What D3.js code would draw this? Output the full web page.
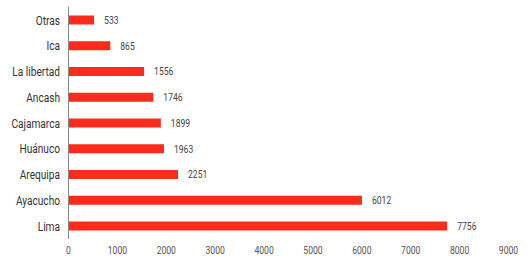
<!DOCTYPE html>
<html><head><meta charset="utf-8">
<script src="https://cdn.jsdelivr.net/npm/d3@7"></script>
<style>body{margin:0;background:#fff}svg{display:block}text{font-family:Roboto,"Noto Sans",sans-serif}</style>
</head><body>
<svg id="c" width="531" height="265"></svg>
<script>
const categories = ["Otras","Ica","La libertad","Ancash","Cajamarca","Huánuco","Arequipa","Ayacucho","Lima"];
const values = [533,865,1556,1746,1899,1963,2251,6012,7756];
const xTicks = [0,1000,2000,3000,4000,5000,6000,7000,8000,9000];

const svg = d3.select("#c");
const x = d3.scaleLinear().domain([0,9000]).range([68,508]);
const y = d3.scaleBand().domain(categories).range([7,239]).paddingInner(0.65).paddingOuter(0.33);
const SX = 0.78;

svg.append("line").attr("x1",68.5).attr("x2",68.5).attr("y1",7).attr("y2",239)
  .attr("stroke","#888").attr("stroke-width",1);

svg.selectAll("rect.bar").data(categories).join("rect")
  .attr("x",x(0)+1).attr("y",d=>y(d)).attr("height",y.bandwidth())
  .attr("width",(d,i)=>x(values[i])-x(0)-1).attr("fill","#fc2b1c");

svg.selectAll("text.cat").data(categories).join("text")
  .attr("transform",d=>`translate(60,${y(d)+y.bandwidth()/2}) scale(${SX},1)`).attr("dy","0.35em")
  .attr("text-anchor","end").attr("font-size",13).attr("fill","#333").text(d=>d);

svg.selectAll("text.val").data(categories).join("text")
  .attr("transform",(d,i)=>`translate(${x(values[i])+10},${y(d)+y.bandwidth()/2}) scale(${SX},1)`).attr("dy","0.35em")
  .attr("font-size",11).attr("fill","#444").text((d,i)=>values[i]);

const ax = svg.append("g").attr("transform","translate(0,243)")
  .call(d3.axisBottom(x).tickValues(xTicks).tickSize(0).tickFormat(d3.format("d")));
ax.select(".domain").remove();
ax.selectAll("text").attr("font-size",11).attr("fill","#555")
  .attr("transform",`scale(${SX},1)`).attr("x",function(d){return 0;})
  .style("font-family","Roboto,sans-serif");
ax.selectAll(".tick").each(function(){ /* keep tick centring under scaled text */ });
</script>
</body></html>
